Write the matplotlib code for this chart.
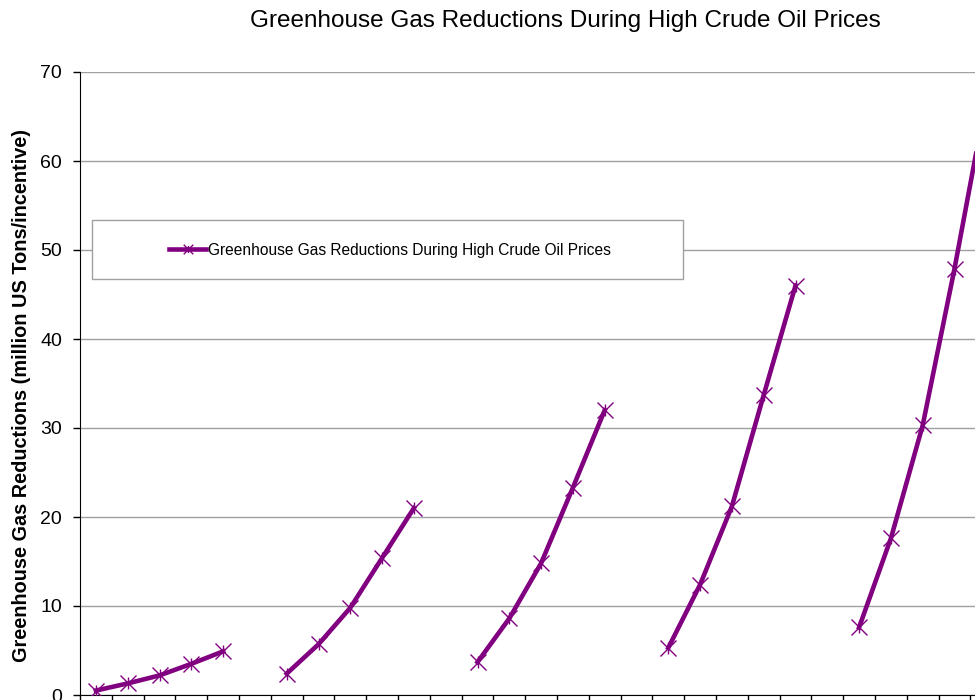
import numpy as np
import matplotlib
matplotlib.use("Agg")
import matplotlib.pyplot as plt
from matplotlib.path import Path
from matplotlib.patches import Rectangle

plt.rcParams['font.family'] = ['Liberation Sans', 'DejaVu Sans']

# data: 29 category slots, 5 groups of 5 points separated by an empty slot
group1 = [0.5, 1.3, 2.2, 3.5, 4.9]
group2 = [2.4, 5.7, 9.8, 15.4, 21.0]
group3 = [3.7, 8.6, 14.8, 23.3, 32.0]
group4 = [5.3, 12.4, 21.2, 33.7, 46.0]
group5 = [7.6, 17.6, 30.3, 47.9, 67.0]
series_name = "Greenhouse Gas Reductions During High Crude Oil Prices"
y_label = "Greenhouse Gas Reductions (million US Tons/incentive)"
y_ticks = [0, 10, 20, 30, 40, 50, 60, 70]

values = []
for g in [group1, group2, group3, group4, group5]:
    values += g + [np.nan]
values = values[:-1]
values = np.array(values, dtype=float)
n = len(values)
x = np.arange(n)

W, H = 975, 700
fig = plt.figure(figsize=(W / 100, H / 100), dpi=100)
left, right, top, bottom = 80, 80 + 31.8 * n, 72, 695
ax = fig.add_axes([left / W, 1 - bottom / H, (right - left) / W, (bottom - top) / H])

# star marker: X plus short vertical bar
verts = [(-1, -1), (1, 1), (-1, 1), (1, -1), (0, -0.75), (0, 0.75)]
codes = [Path.MOVETO, Path.LINETO, Path.MOVETO, Path.LINETO, Path.MOVETO, Path.LINETO]
star = Path(verts, codes)

purple = '#800080'
ax.plot(x, values, color=purple, lw=3.3, marker=star, markersize=11.5,
        markeredgewidth=1.0, markeredgecolor=purple, markerfacecolor='none',
        label=series_name, solid_joinstyle='round', zorder=3)

ax.set_xlim(-0.5, n - 0.5)
ax.set_ylim(0, 70)
ax.set_yticks(y_ticks)
ax.set_xticks(np.arange(n + 1) - 0.5)
ax.set_xticklabels([])
ax.tick_params(axis='y', labelsize=14, length=5, width=1, direction='out', pad=8)
ax.tick_params(axis='x', length=5, width=1, direction='out')
ax.grid(axis='y', color='#a0a0a0', lw=1)
ax.set_axisbelow(True)
for s in ['top', 'right']:
    ax.spines[s].set_visible(False)
ax.spines['left'].set_color('black')
ax.spines['bottom'].set_color('black')

fig.text(22 / W, 1 - 396 / H, y_label, rotation=90, ha='center', va='center',
         fontsize=14.3, fontweight='bold')

fig.text(565 / W, 1 - 21 / H, series_name, ha='center', va='center', fontsize=17.5)

# legend box
rect = Rectangle((92 / W, 1 - 279 / H), (683 - 92) / W, (279 - 220) / H,
                 transform=fig.transFigure, facecolor='white', edgecolor='#a0a0a0',
                 lw=1, zorder=5)
fig.patches.append(rect)
leg = fig.legend(loc='center', bbox_to_anchor=(390 / W, 1 - 250 / H), frameon=False,
                 fontsize=11.2, handlelength=2.4, handletextpad=0.1, markerscale=0.6)
leg.set_zorder(6)

fig.savefig("out.png", dpi=100)
